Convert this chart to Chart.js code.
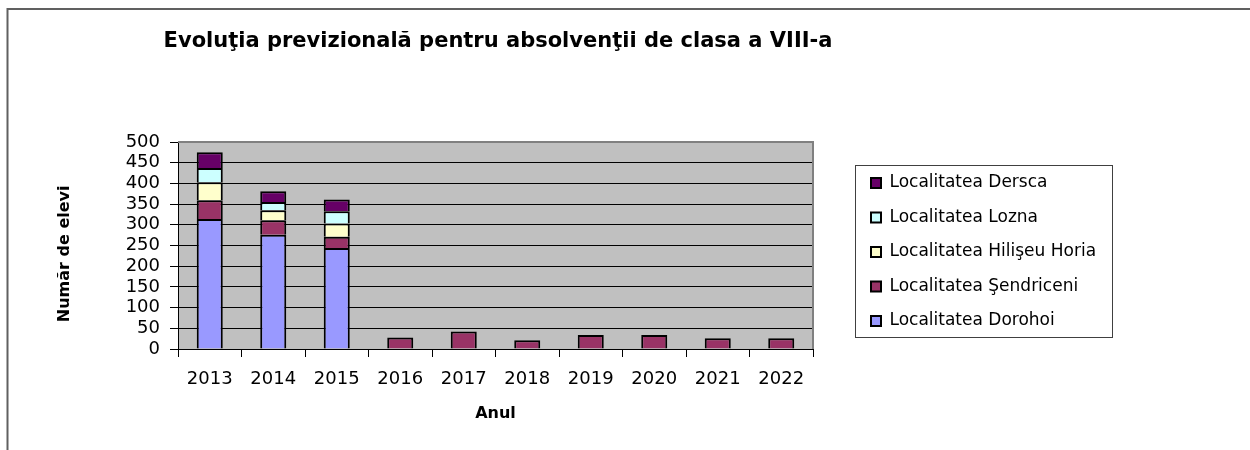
<!DOCTYPE html>
<html>
<head>
<meta charset="utf-8">
<script src="https://cdn.jsdelivr.net/npm/chart.js@4.4.1/dist/chart.umd.min.js"></script>
<style>
  body { margin: 0; background: #fff; }
</style>
</head>
<body>
<canvas id="chart" width="1250" height="450"></canvas>
<script>
const years = ['2013', '2014', '2015', '2016', '2017', '2018', '2019', '2020', '2021', '2022'];
const dorohoi    = [314, 276, 244, null, null, null, null, null, null, null];
const sendriceni = [45, 35, 27, 28, 42, 21, 34, 34, 26, 26];
const hiliseu    = [44, 24, 32, null, null, null, null, null, null, null];
const lozna      = [34, 20, 30, null, null, null, null, null, null, null];
const dersca     = [38, 26, 28, null, null, null, null, null, null, null];

Chart.defaults.font.family = "'DejaVu Sans'";
Chart.defaults.color = '#000';

// grey plot background, plot frame, legend box and the outer border
const decor = {
  id: 'decor',
  afterLayout(chart) {
    const t = chart.titleBlock;
    if (t) { t.left = 160; t.right = 836; }
  },
  beforeDraw(chart) {
    const { ctx, chartArea: a } = chart;
    ctx.save();
    ctx.fillStyle = '#c0c0c0';
    ctx.fillRect(a.left, a.top, a.right - a.left, a.bottom - a.top);
    ctx.restore();
  },
  afterDraw(chart) {
    const { ctx, chartArea: a, legend } = chart;
    ctx.save();
    ctx.strokeStyle = '#808080';
    ctx.lineWidth = 2;
    ctx.beginPath();
    ctx.moveTo(a.left, a.top);
    ctx.lineTo(a.right, a.top);
    ctx.lineTo(a.right, a.bottom);
    ctx.stroke();

    const hb = legend.legendHitBoxes;
    if (hb.length) {
      const first = hb[0], last = hb[hb.length - 1];
      const top = Math.round(first.top + first.height / 2 - 18);
      const bottom = Math.round(last.top + last.height / 2 + 16);
      ctx.strokeStyle = '#404040';
      ctx.lineWidth = 1;
      ctx.strokeRect(Math.round(legend.left) + 1.5, top + 0.5, 257, bottom - top);
    }

    ctx.strokeStyle = '#606060';
    ctx.lineWidth = 2;
    ctx.beginPath();
    ctx.moveTo(7.5, 450);
    ctx.lineTo(7.5, 9);
    ctx.lineTo(1250, 9);
    ctx.stroke();
    ctx.restore();
  }
};

const bar = (label, data, color) => ({
  label: label,
  data: data,
  backgroundColor: color,
  borderColor: '#000',
  borderWidth: 2,
  barPercentage: 0.41,
  categoryPercentage: 1
});

const chart = new Chart(document.getElementById('chart'), {
  type: 'bar',
  data: {
    labels: years,
    datasets: [
      bar('Localitatea Dorohoi', dorohoi, '#9999ff'),
      bar('Localitatea Şendriceni', sendriceni, '#993366'),
      bar('Localitatea Hilişeu Horia', hiliseu, '#ffffcc'),
      bar('Localitatea Lozna', lozna, '#ccffff'),
      bar('Localitatea Dersca', dersca, '#660066')
    ]
  },
  options: {
    responsive: false,
    animation: false,
    layout: { padding: { top: 0, left: 0, bottom: 9.2, right: 140 } },
    scales: {
      x: {
        stacked: true,
        ticks: { padding: 12, font: { size: 18 }, maxRotation: 0, autoSkip: false },
        grid: { color: '#000', drawOnChartArea: false, tickLength: 8, offset: true },
        border: { color: '#000', width: 1 },
        title: { display: true, text: 'Anul', font: { size: 16, weight: 'bold' }, padding: { top: 1.8, bottom: 17.2 } }
      },
      y: {
        stacked: true,
        min: 0,
        max: 500,
        ticks: { stepSize: 50, autoSkip: false, padding: 10, font: { size: 18 } },
        grid: { color: '#000', lineWidth: 1, tickLength: 8 },
        border: { color: '#000', width: 1 },
        title: { display: true, text: 'Număr de elevi   ', font: { size: 16, weight: 'bold' }, padding: { top: 55, bottom: 0 } },
        afterFit(s) { s.width = 178; }
      },
      gap: {
        type: 'linear',
        position: 'right',
        grid: { display: false },
        border: { display: false },
        ticks: { display: false },
        afterFit(s) { s.width = 40.5; }
      }
    },
    plugins: {
      title: {
        display: true,
        fullSize: false,
        text: 'Evoluţia previzională pentru absolvenţii de clasa a VIII-a',
        color: '#000',
        font: { size: 21, weight: 'bold' },
        padding: { top: 29.4, bottom: 87.4 }
      },
      legend: {
        position: 'right',
        align: 'start',
        fullSize: false,
        maxWidth: 400,
        reverse: true,
        title: { display: true, text: ' ', padding: 0, font: { size: 12.5 } },
        labels: { boxWidth: 10, boxHeight: 10, padding: 17.5, font: { size: 17 } }
      },
      tooltip: { enabled: false }
    }
  },
  plugins: [decor]
});

chart.options.layout.padding.right = 1250 - 853.5 - chart.legend.width;
chart.update();
</script>
</body>
</html>
